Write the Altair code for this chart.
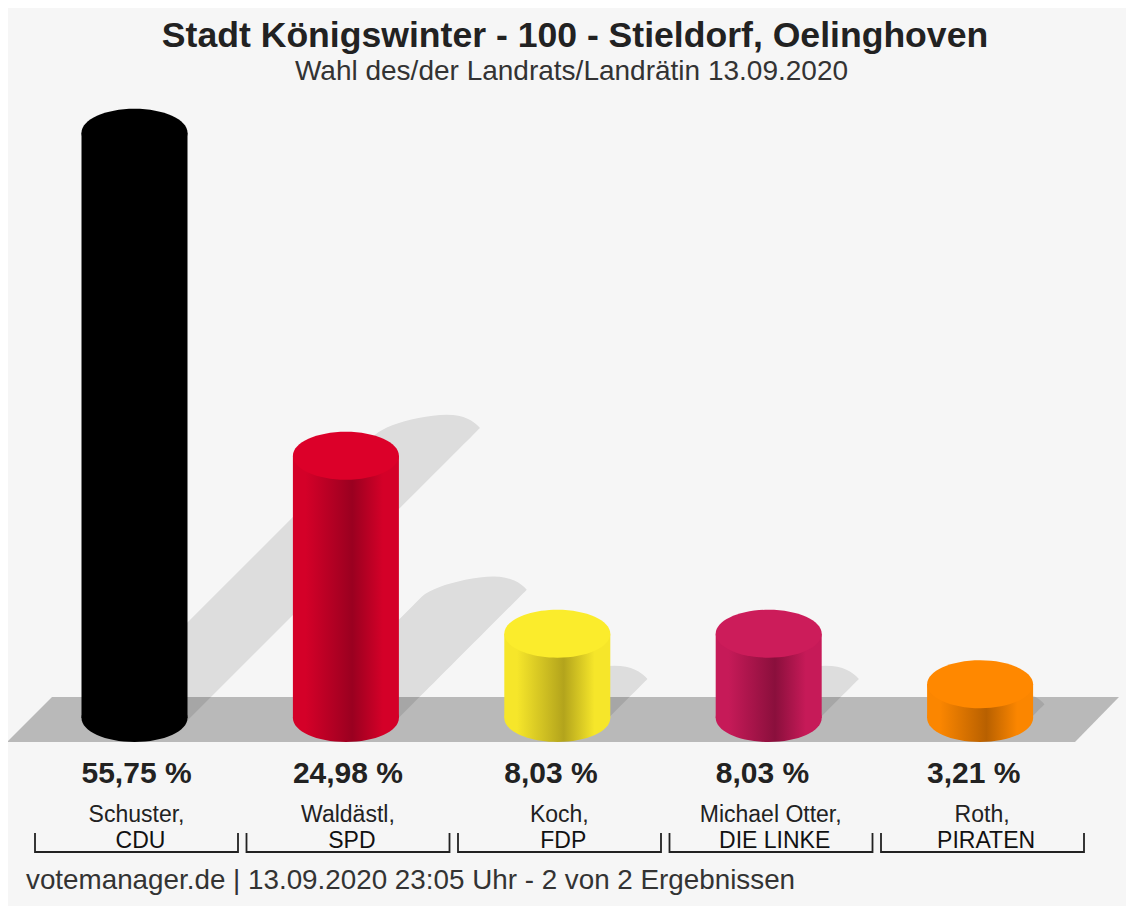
import math
import altair as alt
import pandas as pd

# ---- values ----
TITLE = "Stadt Königswinter - 100 - Stieldorf, Oelinghoven"
SUBTITLE = "Wahl des/der Landrats/Landrätin 13.09.2020"
FOOTER = "votemanager.de | 13.09.2020 23:05 Uhr - 2 von 2 Ergebnissen"
names = ["Schuster,", "Waldästl,", "Koch,", "Michael Otter,", "Roth,"]
parties = ["CDU", "SPD", "FDP", "DIE LINKE", "PIRATEN"]
values = [55.75, 24.98, 8.03, 8.03, 3.21]
labels = ["55,75 %", "24,98 %", "8,03 %", "8,03 %", "3,21 %"]
light = ["#000000", "#d40028", "#f6e62a", "#c61a58", "#fb8600"]
dark = ["#000000", "#9a0020", "#b3a41c", "#8a0f3c", "#b86000"]
top = ["#000000", "#dc0029", "#fbec2c", "#cc1c5a", "#ff8800"]

# ---- drawing geometry (page pixels -> data units) ----
W, H = 1118, 898
SLOT, PCT = 211.4, 10.5
X0, Y0 = 134.5 - 8, 718 - 8
RX, RY = 53, 24


def sx(px):
    return (px - 8 - X0) / SLOT


def sy(py):
    return (Y0 - (py - 8)) / PCT


x_scale = alt.Scale(domain=[(0 - X0) / SLOT, (W - X0) / SLOT], nice=False, zero=False)
y_scale = alt.Scale(domain=[(Y0 - H) / PCT, Y0 / PCT], nice=False, zero=False)
X = lambda f: alt.X(f, type="quantitative", scale=x_scale, axis=None)
Y = lambda f: alt.Y(f, type="quantitative", scale=y_scale, axis=None)


def polygon_area(pts):
    """Turn a convex polygon into the x / y / y2 rows an area mark needs."""
    rows = []
    n = len(pts)
    for x in sorted({p[0] for p in pts}):
        ys = []
        for i in range(n):
            (x1, y1), (x2, y2) = pts[i], pts[(i + 1) % n]
            if min(x1, x2) <= x <= max(x1, x2):
                if x1 == x2:
                    ys += [y1, y2]
                else:
                    ys.append(y1 + (y2 - y1) * (x - x1) / (x2 - x1))
        rows.append({"x": sx(x), "y": sy(min(ys)), "y2": sy(max(ys))})
    return pd.DataFrame(rows)


def area_layer(pts, **kw):
    return alt.Chart(polygon_area(pts)).mark_area(**kw).encode(
        x=X("x"), y=Y("y"), y2=alt.Y2("y2")
    )


ELLIPSE = "M-1 0A1 {r:.4f} 0 1 1 1 0A1 {r:.4f} 0 1 1 -1 0Z".format(r=RY / RX)
SIZE = (2 * RX) ** 2

layers = []

# floor
layers.append(area_layer([(7, 742), (52, 697), (1119, 697), (1075, 742)], color="#b9b9b9"))

# shadows
for i, v in enumerate(values):
    cx = 134.5 + SLOT * i
    mx, my = cx - 6.3 + 5.35 * v, 725.7 - 5.26 * v
    ax, ay, bx, by = 53.5, -4.5, 13.5, -17.5
    arc = []
    for k in range(25):
        t = math.pi * k / 24
        c = math.cos(t)
        # right half falls to a sharp corner, left half is round
        h = 1 - c * c if c > 0 else math.sin(t)
        arc.append((mx + ax * c + bx * h, my + ay * c + by * h))
    # arc runs right corner -> left corner; close along the two slanted edges,
    # ending behind the cylinder so nothing shows on its left side
    lx, ly = arc[-1]
    rx, ry = arc[0]
    pts = list(arc)
    if lx > cx:
        pts.append((cx, ly + (lx - cx)))
    pts.append((rx - (730 - ry), 730))
    layers.append(area_layer(pts, color="#000000", opacity=0.1))

# cylinders
for i, v in enumerate(values):
    row = pd.DataFrame(
        [{"slot": i, "x0": i - RX / SLOT, "x1": i + RX / SLOT, "v": v, "base": 0.0}]
    )
    grad = alt.LinearGradient(
        gradient="linear",
        x1=0, x2=1, y1=0, y2=0,
        stops=[
            alt.GradientStop(color=light[i], offset=0),
            alt.GradientStop(color=light[i], offset=0.12),
            alt.GradientStop(color=dark[i], offset=0.56),
            alt.GradientStop(color=light[i], offset=0.85),
            alt.GradientStop(color=light[i], offset=1),
        ],
    )
    base = alt.Chart(row)
    layers.append(
        base.mark_point(shape=ELLIPSE, size=SIZE, fill=grad, filled=True, opacity=1, strokeWidth=0)
        .encode(x=X("slot"), y=Y("base"))
    )
    layers.append(
        base.mark_rect(fill=grad, strokeWidth=0).encode(
            x=X("x0"), x2=alt.X2("x1"), y=Y("v"), y2=alt.Y2("base")
        )
    )
    layers.append(
        base.mark_point(shape=ELLIPSE, size=SIZE, fill=top[i], filled=True, opacity=1, strokeWidth=0)
        .encode(x=X("slot"), y=Y("v"))
    )

# brackets under each candidate
rows = []
for i, n in enumerate(names):
    l, r = 35 + 211.5 * i, 238 + 211.5 * i
    for k, (px, py) in enumerate([(l, 833), (l, 852), (r, 852), (r, 833)]):
        rows.append({"name": n, "k": k, "x": sx(px), "y": sy(py)})
layers.append(
    alt.Chart(pd.DataFrame(rows))
    .mark_line(color="#222222", strokeWidth=1.8, strokeJoin="miter")
    .encode(x=X("x"), y=Y("y"), order="k:Q", detail="name:N")
)

# texts under the cylinders
tbl = pd.DataFrame(
    {"slot": range(5), "label": labels, "name": names, "party": parties}
)
FONT = "Liberation Sans"
layers.append(
    alt.Chart(tbl)
    .mark_text(font=FONT, fontSize=30, fontWeight="bold", align="left", baseline="alphabetic",
               dx=-RX, color="#222222")
    .encode(x=X("slot"), y=alt.value(783 - 8), text="label:N")
)
layers.append(
    alt.Chart(tbl)
    .mark_text(font=FONT, fontSize=23, align="center", baseline="alphabetic", dx=2, color="#222222")
    .encode(x=X("slot"), y=alt.value(822 - 8), text="name:N")
)
layers.append(
    alt.Chart(tbl)
    .mark_text(font=FONT, fontSize=23, align="center", baseline="alphabetic", dx=6, color="#111111")
    .encode(x=X("slot"), y=alt.value(848 - 8), text="party:N")
)

# subtitle and footer
layers.append(
    alt.Chart(pd.DataFrame({"t": [SUBTITLE]}))
    .mark_text(font=FONT, fontSize=28, align="center", baseline="alphabetic", color="#333333")
    .encode(x=alt.value(571.5 - 8), y=alt.value(80 - 8), text="t:N")
)
layers.append(
    alt.Chart(pd.DataFrame({"t": [FOOTER]}))
    .mark_text(font=FONT, fontSize=27.8, align="left", baseline="alphabetic", color="#333333")
    .encode(x=alt.value(26 - 8), y=alt.value(889 - 8), text="t:N")
)

chart = (
    alt.layer(*layers)
    .properties(
        width=W,
        height=H,
        padding=0,
        autosize=alt.AutoSizeParams(type="none"),
        background="#f6f6f6",
        title=alt.TitleParams(
            TITLE, font=FONT, fontSize=35.6, fontWeight="bold", color="#222222",
            anchor="middle", dx=8, offset=-75, baseline="alphabetic",
        ),
    )
    .configure_view(stroke=None)
)

chart.save("out.html", embed_options={"renderer": "svg", "actions": False})
